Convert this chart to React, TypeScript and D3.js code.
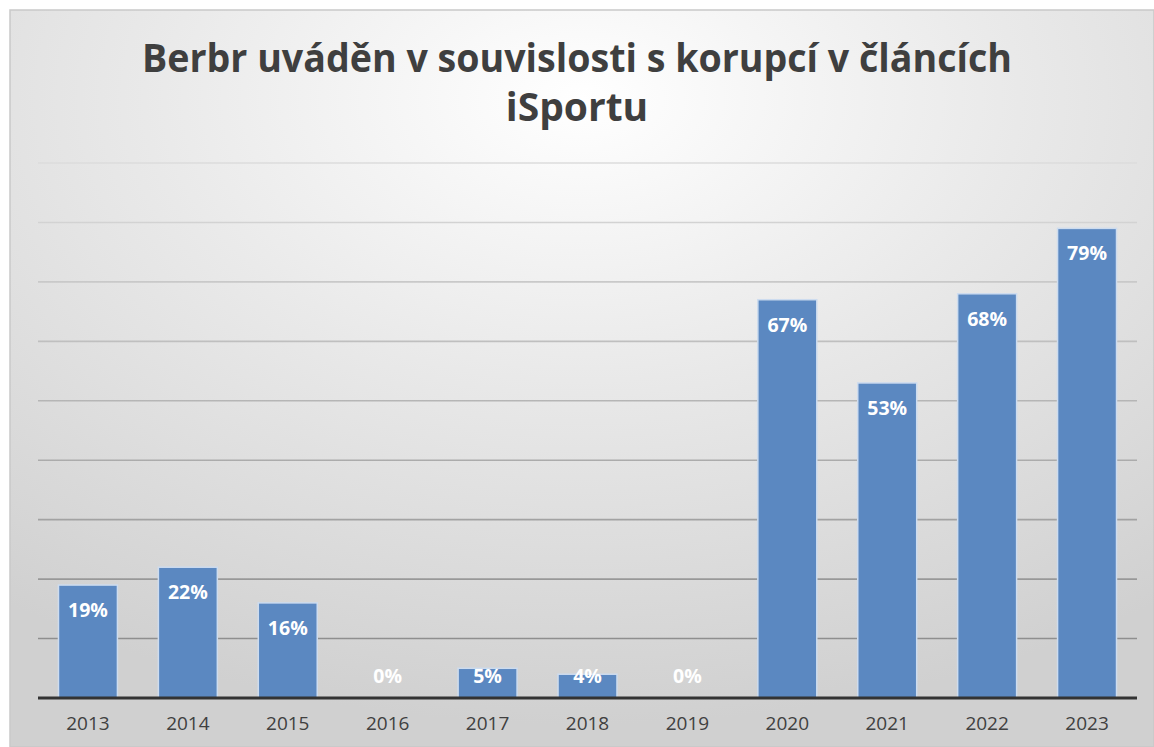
import React from "react";
import * as d3 from "d3";

const years = ["2013", "2014", "2015", "2016", "2017", "2018", "2019", "2020", "2021", "2022", "2023"];
const shares = [19, 22, 16, 0, 5, 4, 0, 67, 53, 68, 79];
const yTicks = [10, 20, 30, 40, 50, 60, 70, 80, 90];
const titleLines = ["Berbr uváděn v souvislosti s korupcí v článcích", "iSportu"];

const W = 1154;
const H = 747;
const plot = { left: 38, right: 1137, top: 163, bottom: 698 };

export default function App() {
  const x = d3.scaleBand<string>().domain(years).range([plot.left, plot.right]).paddingInner(0.41).paddingOuter(0.205);
  const y = d3.scaleLinear().domain([0, 90]).range([plot.bottom, plot.top]);
  const labelY = (v: number) => Math.min(y(v) + 25, plot.bottom - 22) + 7;

  return (
    <svg width={W} height={H} style={{ position: "absolute", left: 0, top: 0, display: "block" }}>
      <defs>
        <radialGradient id="bg" cx="50%" cy="12%" r="85%" fx="50%" fy="12%">
          <stop offset="0%" stopColor="#ffffff" />
          <stop offset="45%" stopColor="#e9e9e9" />
          <stop offset="100%" stopColor="#d0d0d0" />
        </radialGradient>
        <linearGradient id="gridGrad" gradientUnits="userSpaceOnUse" x1="0" y1={plot.top} x2="0" y2={plot.bottom}>
          <stop offset="0%" stopColor="#dcdcdc" />
          <stop offset="100%" stopColor="#858585" />
        </linearGradient>
      </defs>
      <rect x={0} y={0} width={W} height={H} fill="#ffffff" />
      <rect x={10} y={10} width={W - 10} height={H - 10} fill="url(#bg)" stroke="#c9c9c9" strokeWidth={1.5} />

      <g fontFamily="'Open Sans', sans-serif" fontWeight={700} fill="#3f3f3f" textAnchor="middle">
        <text x={577} y={72} fontSize={39} textLength={870} lengthAdjust="spacingAndGlyphs">{titleLines[0]}</text>
        <text x={577} y={121} fontSize={39}>{titleLines[1]}</text>
      </g>

      <g>
        {yTicks.map((t) => (
          <line key={t} x1={plot.left} x2={plot.right} y1={y(t)} y2={y(t)} stroke="url(#gridGrad)" strokeWidth={1.6} />
        ))}
      </g>

      <g>
        {years.map((yr, i) => (
          <rect
            key={yr}
            x={x(yr)!}
            y={y(shares[i])}
            width={x.bandwidth()}
            height={plot.bottom - y(shares[i])}
            fill="#5b88c1"
            stroke="#cddcef"
            strokeWidth={shares[i] > 0 ? 1.5 : 0}
          />
        ))}
      </g>

      <line x1={plot.left} x2={plot.right} y1={plot.bottom} y2={plot.bottom} stroke="#333333" strokeWidth={3} />

      <g fontFamily="'Open Sans', sans-serif" fontWeight={700} fontSize={19.5} fill="#ffffff" textAnchor="middle">
        {years.map((yr, i) => (
          <text key={yr} x={x(yr)! + x.bandwidth() / 2} y={labelY(shares[i])}>{shares[i] + "%"}</text>
        ))}
      </g>

      <g fontFamily="'Open Sans', sans-serif" fontSize={19} fill="#404040" textAnchor="middle">
        {years.map((yr) => (
          <text key={yr} x={x(yr)! + x.bandwidth() / 2} y={730}>{yr}</text>
        ))}
      </g>
    </svg>
  );
}
